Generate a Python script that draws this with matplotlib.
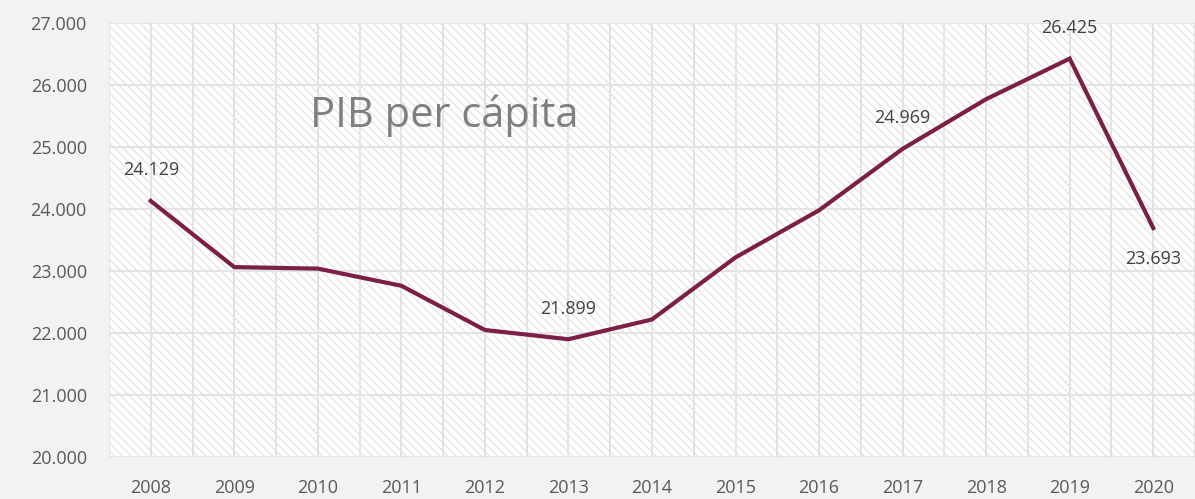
import matplotlib.pyplot as plt
from matplotlib.patches import Rectangle
from matplotlib.ticker import FuncFormatter, MultipleLocator

plt.rcParams["font.family"] = ["Open Sans", "DejaVu Sans"]
plt.rcParams["hatch.linewidth"] = 0.8

years = ["2008", "2009", "2010", "2011", "2012", "2013", "2014",
         "2015", "2016", "2017", "2018", "2019", "2020"]
pib = [24129, 23062, 23038, 22761, 22048, 21899, 22218,
       23219, 23979, 24969, 25771, 26425, 23693]
# which points get a value label, and whether it sits above (+1) or below (-1)
labelled = {0: 1, 5: 1, 9: 1, 11: 1, 12: -1}

fig = plt.figure(figsize=(11.95, 4.99), dpi=100, facecolor="#f2f2f2")
ax = fig.add_axes([0.0912, 0.0842, 0.9088, 0.8698])
ax.set_facecolor("white")

# diagonal hatching over the plot area
ax.add_patch(Rectangle((0, 0), 1, 1, transform=ax.transAxes, facecolor="white",
                       edgecolor="#e0e0e0", lw=0, hatch="\\\\\\\\", zorder=0))

x = list(range(len(years)))
ax.plot(x, pib, color="#7b1f47", lw=3, solid_joinstyle="miter", zorder=3)

for i, pos in labelled.items():
    ax.annotate(f"{pib[i]:,}".replace(",", "."), (x[i], pib[i]),
                xytext=(0, 22 * pos), textcoords="offset points",
                ha="center", va="center", fontsize=13, color="#404040", zorder=4)

ax.text(0.309, 0.786, "PIB per cápita", transform=ax.transAxes, fontsize=30,
        color="#7f7f7f", ha="center", va="center")

ax.set_xlim(-0.5, len(years) - 0.5)
ax.set_ylim(20000, 27000)
ax.set_xticks(x)
ax.set_xticklabels(years)
ax.xaxis.set_minor_locator(MultipleLocator(0.5))
ax.yaxis.set_major_locator(MultipleLocator(1000))
ax.yaxis.set_major_formatter(FuncFormatter(lambda v, p: f"{int(v):,}".replace(",", ".")))

ax.grid(True, which="major", axis="y", color="#e2e2e2", lw=1.3, zorder=1)
ax.grid(True, which="both", axis="x", color="#e2e2e2", lw=1.3, zorder=1)
ax.set_axisbelow(True)
for s in ax.spines.values():
    s.set_visible(False)
ax.tick_params(axis="both", which="both", length=0, labelsize=13, colors="#595959")
ax.tick_params(axis="x", pad=16)
ax.tick_params(axis="y", pad=16)

fig.savefig("out.png", dpi=100, facecolor=fig.get_facecolor())
